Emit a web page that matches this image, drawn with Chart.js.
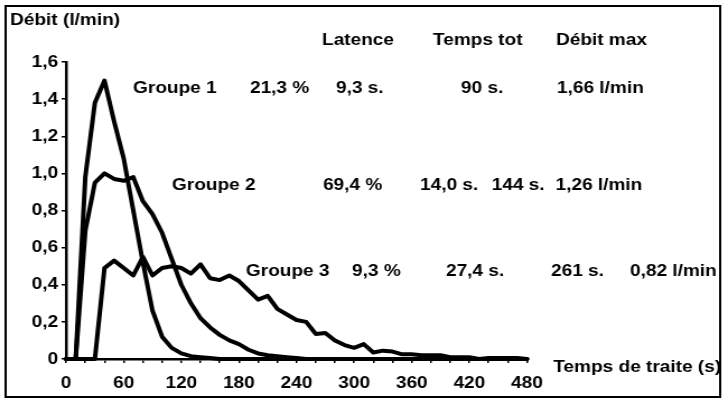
<!DOCTYPE html>
<html>
<head>
<meta charset="utf-8">
<script src="https://cdn.jsdelivr.net/npm/chart.js@4"></script>
<style>
  html, body { margin: 0; padding: 0; background: #fff; overflow: hidden; }
  /* the original picture is stretched sideways, so the whole chart is too */
  #wrap { width: 645px; height: 402px; transform: scaleX(1.12); transform-origin: 0 0; }
</style>
</head>
<body>
<div id="wrap"><canvas id="js--chart" width="645" height="402"></canvas></div>
<script>
const times = [0, 10, 20, 30, 40, 50, 60, 70, 80, 90, 100, 110, 120, 130, 140, 150, 160, 170, 180, 190,
    200, 210, 220, 230, 240, 250, 260, 270, 280, 290, 300, 310, 320, 330, 340, 350, 360, 370, 380, 390,
    400, 410, 420, 430, 440, 450, 460, 470, 480];

const groupe1 = [0, 0, 0.98, 1.38, 1.5, 1.28, 1.08, 0.8, 0.52, 0.26, 0.12, 0.06, 0.03, 0.015, 0.01, 0.005, 0, 0, 0, 0,
    0, 0, 0, 0, 0, 0, 0, 0, 0, 0, 0, 0, 0, 0, 0, 0, 0, 0, 0, 0,
    0, 0, 0, 0, 0, 0, 0, 0, 0];

const groupe2 = [0, 0, 0.69, 0.95, 1.0, 0.97, 0.96, 0.98, 0.85, 0.78, 0.68, 0.54, 0.4, 0.3, 0.22, 0.17, 0.13, 0.1, 0.08, 0.05,
    0.03, 0.02, 0.015, 0.01, 0.005, 0, 0, 0, 0, 0, 0, 0, 0, 0, 0, 0, 0, 0, 0, 0,
    0, 0, 0, 0, 0, 0, 0, 0, 0];

const groupe3 = [0, 0, 0, 0, 0.49, 0.53, 0.49, 0.45, 0.55, 0.45, 0.49, 0.5, 0.49, 0.46, 0.51, 0.435, 0.425, 0.45, 0.42, 0.37,
    0.32, 0.34, 0.27, 0.24, 0.21, 0.2, 0.135, 0.14, 0.1, 0.075, 0.06, 0.08, 0.035, 0.045, 0.04, 0.025, 0.025, 0.02, 0.02, 0.02,
    0.01, 0.01, 0.01, 0, 0.005, 0.005, 0.005, 0.005, 0];

const xLabels = [0, 60, 120, 180, 240, 300, 360, 420, 480];

const headers = ["Latence", "Temps tot", "Débit max"];
const groupes = ["Groupe 1", "Groupe 2", "Groupe 3"];
const pourcent = ["21,3 %", "69,4 %", "9,3 %"];
const latence = ["9,3 s.", "14,0 s.", "27,4 s."];
const tempsTot = ["90 s.", "144 s.", "261 s."];
const debitMax = ["1,66 l/min", "1,26 l/min", "0,82 l/min"];

const FAMILY = '"Liberation Sans", Arial, sans-serif';
const FONT = "bold 17px " + FAMILY;

function serie(values) {
    return times.map((t, i) => ({x: t, y: values[i]}));
}

const lineStyle = {
    borderColor: "#000",
    borderWidth: 4,
    pointRadius: 0,
    tension: 0,
    borderJoinStyle: "round",
    borderCapStyle: "round",
    clip: false,
};

// texts and frame, drawn on the canvas (x in unstretched pixels)
const textes = {
    id: "textes",
    afterDraw(chart) {
        const c = chart.ctx;
        c.save();
        c.fillStyle = "#000";
        c.font = FONT;
        c.textBaseline = "middle";
        c.textAlign = "left";

        c.fillText("Débit (l/min)", 9, 20);
        c.fillText(headers[0], 287.5, 40);
        c.fillText(headers[1], 386.6, 40);
        c.fillText(headers[2], 496.4, 40);

        const rows = [
            {y: 88, x: [118.8, 223.2, 300, 411.6, 497.3]},
            {y: 185, x: [153.6, 288.4, 375, 439, 496]},
            {y: 271, x: [219.6, 314.3, 398.2, 492, 562.5]},
        ];
        rows.forEach((r, i) => {
            c.fillText(groupes[i], r.x[0], r.y);
            c.fillText(pourcent[i], r.x[1], r.y);
            c.fillText(latence[i], r.x[2], r.y);
            c.fillText(tempsTot[i], r.x[3], r.y);
            c.fillText(debitMax[i], r.x[4], r.y);
        });

        c.fillText("Temps de traite (s)", 494, 367);

        c.strokeStyle = "#000";
        c.lineWidth = 2;
        c.strokeRect(5, 6, 638, 391);
        c.restore();
    }
};

const data = {
    datasets: [
        {label: "Groupe 1", data: serie(groupe1), ...lineStyle},
        {label: "Groupe 2", data: serie(groupe2), ...lineStyle},
        {label: "Groupe 3", data: serie(groupe3), ...lineStyle},
    ]
};

const config = {
    type: "line",
    data: data,
    options: {
        responsive: false,
        animation: false,
        layout: {padding: {left: 0, top: 62, right: 174.5, bottom: 0}},
        plugins: {legend: {display: false}, tooltip: {enabled: false}},
        scales: {
            x: {
                type: "linear",
                min: 0,
                max: 480,
                afterFit: s => { s.height = 43; },
                afterBuildTicks: s => { s.ticks = times.filter(t => t % 20 === 0).map(v => ({value: v})); },
                ticks: {
                    autoSkip: false,
                    maxRotation: 0,
                    padding: 10,
                    color: "#000",
                    font: {family: FAMILY, size: 17, weight: "bold"},
                    callback: v => xLabels.includes(v) ? String(v) : "",
                },
                grid: {drawOnChartArea: false, drawTicks: true, tickLength: 4, color: "#000", lineWidth: 1.5},
                border: {color: "#000", width: 2.5},
            },
            y: {
                min: 0,
                max: 1.6,
                afterFit: s => { s.width = 59; },
                ticks: {
                    stepSize: 0.2,
                    padding: 3,
                    color: "#000",
                    font: {family: FAMILY, size: 17, weight: "bold"},
                    callback: v => v === 0 ? "0" : v.toFixed(1).replace(".", ","),
                },
                grid: {drawOnChartArea: false, drawTicks: true, tickLength: 4, color: "#000", lineWidth: 1.5},
                border: {color: "#000", width: 2.5},
            }
        }
    },
    plugins: [textes],
};

new Chart(document.getElementById("js--chart"), config);
</script>
</body>
</html>
